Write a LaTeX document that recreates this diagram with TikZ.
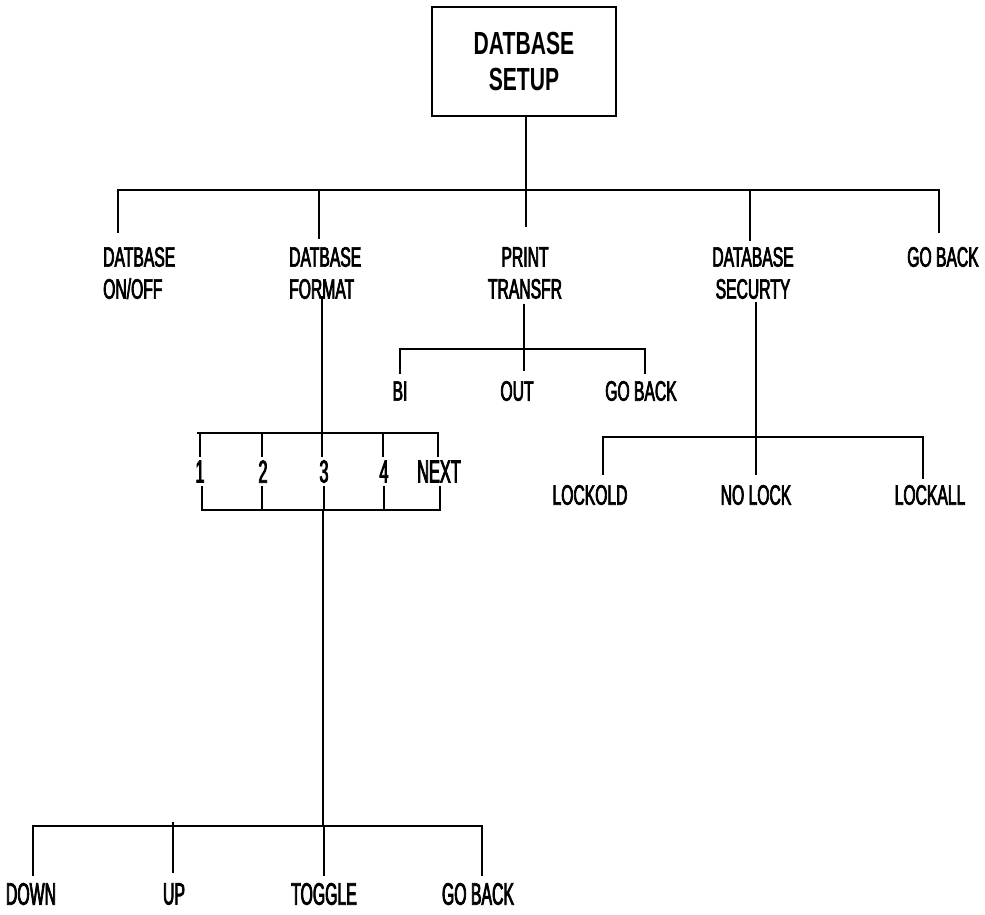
\documentclass[tikz,border=0pt]{standalone}
\usepackage{fontspec}
\setmainfont{Liberation Sans}
\newfontfamily\labfont[FakeStretch=0.56,FakeBold=2.5]{Liberation Sans}
\newfontfamily\labfontb[FakeStretch=0.51,FakeBold=2.5]{Liberation Sans}
\newfontfamily\titlefont[FakeStretch=0.66]{Liberation Sans}
\begin{document}
\begin{tikzpicture}[x=1pt,y=-1pt,
  lab/.style={font=\labfont\fontsize{28}{32}\selectfont, inner sep=0pt},
  labb/.style={font=\labfontb\fontsize{31}{34}\selectfont, inner sep=0pt},
  num/.style={font=\labfontb\fontsize{32}{34}\selectfont, inner sep=0pt},
  ln/.style={line width=1.2pt, line cap=rect}]
\useasboundingbox (0,0) rectangle (985,914);
% title
\node[draw, line width=1.2pt, minimum width=184pt, minimum height=109pt, align=center,
  font=\titlefont\bfseries\fontsize{32}{36}\selectfont, inner sep=0pt] (top) at (524,61.5) {DATBASE\\SETUP};
% level 1 labels
\node[lab, align=left, anchor=west] (onoff) at (103,273) {DATBASE\\ON/OFF};
\node[lab, align=left, anchor=west] (format) at (289,273) {DATBASE\\FORMAT};
\node[lab, align=center] (print) at (525,273) {PRINT\\TRANSFR};
\node[lab, align=center] (secur) at (753,273) {DATABASE\\SECURTY};
\node[lab] (gb1) at (943,257) {GO BACK};
% print subtree
\node[lab] (bi) at (400,391) {BI};
\node[lab] (out) at (517,391) {OUT};
\node[lab] (gb2) at (641,391) {GO BACK};
% security subtree
\node[lab] (lockold) at (590,495) {LOCKOLD};
\node[lab] (nolock) at (756,495) {NO LOCK};
\node[lab] (lockall) at (930,495) {LOCKALL};
% format box
\node[num] (n1) at (200,471.5) {1};
\node[num] (n2) at (263,471.5) {2};
\node[num] (n3) at (324,471.5) {3};
\node[num] (n4) at (384,471.5) {4};
\node[num] (next) at (439,471.5) {NEXT};
% bottom
\node[labb] (down) at (31,894) {DOWN};
\node[labb] (up) at (174,894) {UP};
\node[labb] (toggle) at (324,894) {TOGGLE};
\node[labb] (gb3) at (478,894) {GO BACK};

% coordinates
\coordinate (b1) at (526,190);
\coordinate (b1l) at (118,190);
\coordinate (b1r) at (939,190);
\coordinate (fx) at (322,297);
\coordinate (boxt) at (322,433);
\coordinate (boxb) at (323,510);
\coordinate (b3) at (323,826);
\coordinate (pp) at (524,305);
\coordinate (b2) at (524,349);
\coordinate (sp) at (756,303);
\coordinate (b4) at (756,437);

\begin{scope}[ln]
% level 1
\draw (b1 |- top.south) -- (b1);
\draw (b1l) -- (b1r);
\draw (b1l) -- (118,232);
\draw (319,190) -- (319,238);
\draw (b1) -- (526,226);
\draw (750,190) -- (750,240);
\draw (b1r) -- (939,232);
% format
\draw (fx) -- (boxt);
\draw (198,433) -- (438,433);
\foreach \x in {200,262,322,383,438} \draw (\x,433) -- (\x,456);
\draw (202,510) -- (440,510);
\foreach \x in {202,262,324,384,440} \draw (\x,487) -- (\x,510);
\draw (boxb) -- (b3);
\draw (33,826) -- (482,826);
\draw (33,826) -- (33,875);
\draw (173,823) -- (173,872);
\draw (324,826) -- (324,875);
\draw (482,826) -- (482,875);
% print
\draw (pp) -- (524,370);
\draw (400,349) -- (645,349);
\draw (400,349) -- (400,373);
\draw (645,349) -- (645,373);
% security
\draw (sp) -- (756,474);
\draw (603,437) -- (923,437);
\draw (603,437) -- (603,474);
\draw (923,437) -- (923,478);
\end{scope}
\end{tikzpicture}
\end{document}
